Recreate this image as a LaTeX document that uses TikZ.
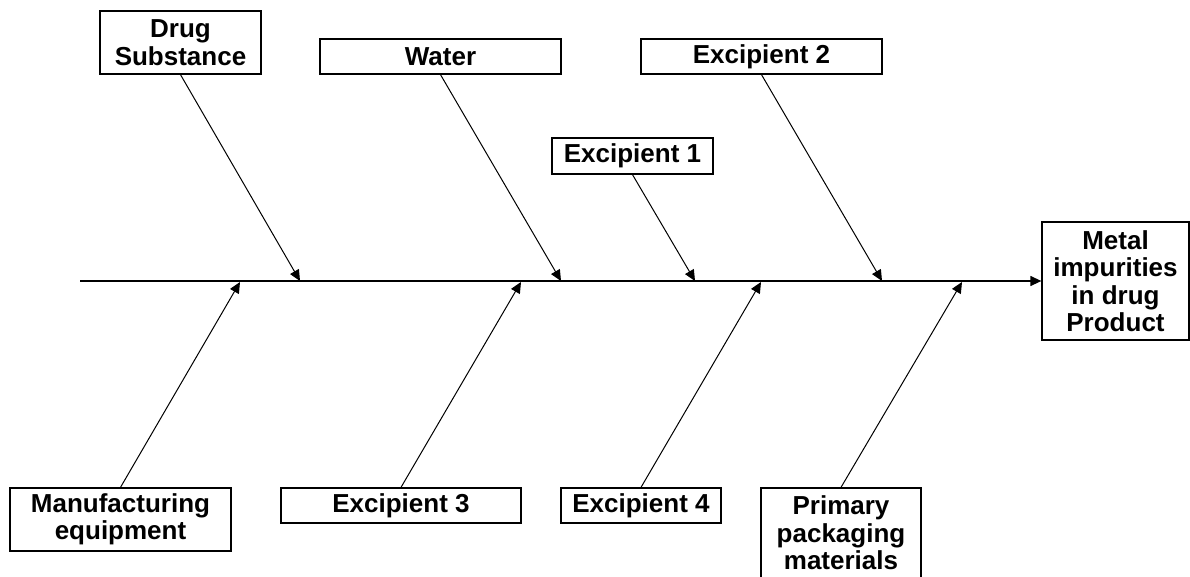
\documentclass[tikz,border=0pt]{standalone}
\usepackage{fontspec}
\setmainfont{Liberation Sans}
\usetikzlibrary{arrows.meta}
\begin{document}
\begin{tikzpicture}[x=1pt,y=-1pt,
  box/.style={draw=black, line width=1.3pt, fill=white, inner sep=0pt, align=center,
    font=\fontsize{26}{27.5}\selectfont\bfseries},
  bone/.style={line width=1pt, -{Triangle[length=11pt,width=10pt]}},
  spine/.style={line width=1.3pt, -{Triangle[length=11pt,width=10pt]}}]
\useasboundingbox (0,0) rectangle (1190,577);
\clip (0,0) rectangle (1190,577);
% boxes
\node[box, minimum width=161pt, minimum height=63pt] (ds) at (180.5,42.5) {Drug\\Substance};
\node[box, minimum width=241pt, minimum height=35pt] (water) at (440.5,56.5) {Water};
\node[box, minimum width=241pt, minimum height=35pt] (ex2) at (761.5,56.5) {Excipient 2};
\node[box, minimum width=161pt, minimum height=36pt] (ex1) at (632.5,156) {Excipient 1};
\node[box, minimum width=147pt, minimum height=118pt] (metal) at (1115.5,281) {Metal\\impurities\\in drug\\Product};
\node[box, minimum width=221pt, minimum height=63pt] (mfg) at (120.5,519.5) {Manufacturing\\equipment};
\node[box, minimum width=240pt, minimum height=35pt] (ex3) at (401,505.5) {Excipient 3};
\node[box, minimum width=160pt, minimum height=35pt] (ex4) at (641,505.5) {Excipient 4};
\node[box, minimum width=160pt, minimum height=90pt] (pp) at (841,533) {Primary\\packaging\\materials};
% spine
\coordinate (tail) at (80,281);
\draw[spine] (tail) -- (metal.west);
% tip coordinates
\coordinate (t1) at (300,281);
\coordinate (t2) at (561,281);
\coordinate (t3) at (695,281);
\coordinate (t4) at (882,281);
\coordinate (b1) at (240,282);
\coordinate (b2) at (521,282);
\coordinate (b3) at (761,282);
\coordinate (b4) at (962,282);
% bones
\draw[bone] (ds.south) -- (t1);
\draw[bone] (water.south) -- (t2);
\draw[bone] (ex1.south) -- (t3);
\draw[bone] (ex2.south) -- (t4);
\draw[bone] (mfg.north) -- (b1);
\draw[bone] (ex3.north) -- (b2);
\draw[bone] (ex4.north) -- (b3);
\draw[bone] (pp.north) -- (b4);
\end{tikzpicture}
\end{document}
